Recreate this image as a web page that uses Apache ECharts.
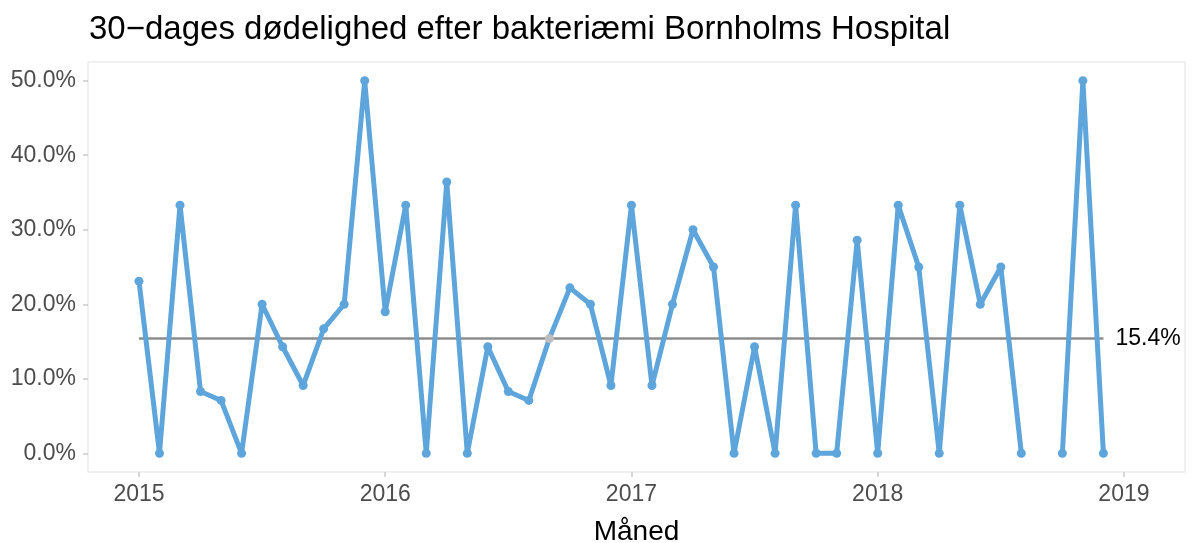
<!DOCTYPE html>
<html>
<head>
<meta charset="utf-8">
<script src="https://cdn.jsdelivr.net/npm/echarts@6/dist/echarts.min.js"></script>
<style>
  html, body { margin: 0; padding: 0; background: #fff; }
  #demo { width: 1192px; height: 543px; }
</style>
</head>
<body>
<div id="demo"></div>
<script>
// maaneder jan 2015 - dec 2018
var maaneder = [
  '2015-01','2015-02','2015-03','2015-04','2015-05','2015-06','2015-07','2015-08','2015-09','2015-10','2015-11','2015-12',
  '2016-01','2016-02','2016-03','2016-04','2016-05','2016-06','2016-07','2016-08','2016-09','2016-10','2016-11','2016-12',
  '2017-01','2017-02','2017-03','2017-04','2017-05','2017-06','2017-07','2017-08','2017-09','2017-10','2017-11','2017-12',
  '2018-01','2018-02','2018-03','2018-04','2018-05','2018-06','2018-07','2018-08','2018-09','2018-10','2018-11','2018-12'
];
// doedelighed i procent (null = ingen data)
var doedelighed = [
  23.1, 0, 33.3, 8.3, 7.1, 0, 20.0, 14.3, 9.1, 16.7, 20.0, 50.0,
  19.0, 33.3, 0, 36.4, 0, 14.3, 8.3, 7.1, 15.4, 22.2, 20.0, 9.1,
  33.3, 9.1, 20.0, 30.0, 25.0, 0, 14.3, 0, 33.3, 0, 0, 28.6,
  0, 33.3, 25.0, 0, 33.3, 20.0, 25.0, 0, null, 0, 50.0, 0
];
var median = 15.4;
var yTicks = [0, 10, 20, 30, 40, 50];
var xTicks = [2015, 2016, 2017, 2018, 2019];

// maaned -> decimal aar
function tilAar(s) {
  var p = s.split('-');
  return parseInt(p[0]) + (parseInt(p[1]) - 1) / 12;
}

var punkter = [];
for (var i = 0; i < maaneder.length; i++) {
  var v = doedelighed[i];
  var item = { value: [tilAar(maaneder[i]), v] };
  // punkter paa medianen er graa
  if (v === median) {
    item.itemStyle = { color: '#BDBDBD' };
  }
  punkter.push(item);
}
var medianLinje = [
  [tilAar(maaneder[0]), median],
  [tilAar(maaneder[maaneder.length - 1]), median]
];

var chartDom = document.getElementById('demo');
var myChart = echarts.init(chartDom);
var tekst = '"Liberation Sans", Arial, Helvetica, sans-serif';
var option = {
  animation: false,
  textStyle: { fontFamily: tekst },
  title: {
    text: '30\u2212dages dødelighed efter bakteriæmi Bornholms Hospital',
    left: 84,
    top: 8,
    textStyle: { fontSize: 33, fontWeight: 'normal', color: '#000', fontFamily: tekst }
  },
  grid: {
    left: 88, right: 7, top: 62, bottom: 71,
    outerBoundsMode: 'none',
    containLabel: false,
    show: true, borderColor: '#EBEBEB', borderWidth: 1.5, backgroundColor: '#fff'
  },
  xAxis: {
    type: 'value',
    min: 2014.793,
    max: 2019.248,
    name: 'Måned',
    nameLocation: 'middle',
    nameGap: 46,
    nameTextStyle: { fontSize: 28, color: '#000', fontFamily: tekst },
    axisLine: { show: false, onZero: false },
    splitLine: { show: false },
    axisTick: { show: true, length: 5, customValues: xTicks, lineStyle: { color: '#CCCCCC', width: 1.5 } },
    axisLabel: {
      customValues: xTicks, margin: 11, fontSize: 23, color: '#4D4D4D', fontFamily: tekst,
      formatter: function (v) { return String(Math.round(v)); }
    }
  },
  yAxis: {
    type: 'value',
    min: -2.5,
    max: 52.5,
    axisLine: { show: false, onZero: false },
    splitLine: { show: false },
    axisTick: { show: true, length: 5, customValues: yTicks, lineStyle: { color: '#CCCCCC', width: 1.5 } },
    axisLabel: {
      customValues: yTicks, margin: 12, fontSize: 23, color: '#4D4D4D', fontFamily: tekst,
      formatter: function (v) { return v.toFixed(1) + '%'; }
    }
  },
  series: [
    {
      type: 'line',
      data: medianLinje,
      symbol: 'none',
      silent: true,
      lineStyle: { color: '#8C8C8C', width: 2.5 },
      endLabel: {
        show: true,
        distance: 12,
        formatter: median.toFixed(1) + '%',
        fontSize: 23,
        color: '#000',
        fontFamily: tekst
      },
      z: 1
    },
    {
      type: 'line',
      data: punkter,
      connectNulls: false,
      symbol: 'circle',
      symbolSize: 9,
      showAllSymbol: true,
      itemStyle: { color: '#5DA5DA' },
      lineStyle: { color: '#5DA5DA', width: 5 },
      z: 2
    }
  ]
};
option && myChart.setOption(option);
</script>
</body>
</html>
